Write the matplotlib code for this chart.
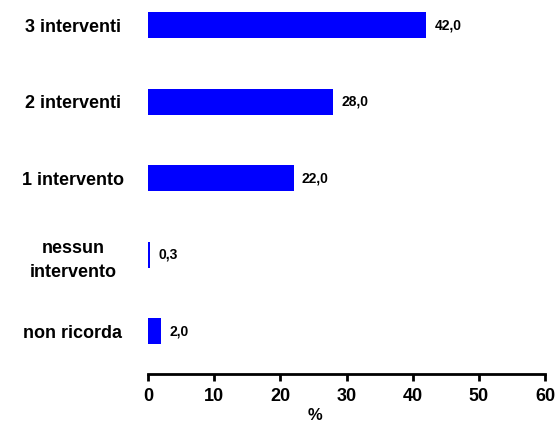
import matplotlib
matplotlib.use('Agg')
import matplotlib.pyplot as plt
import numpy as np

categories = ['non ricorda', 'nessun\nintervento', '1 intervento', '2 interventi', '3 interventi']
values = [2.0, 0.3, 22.0, 28.0, 42.0]
value_labels = ['2,0', '0,3', '22,0', '28,0', '42,0']
x_ticks = [0, 10, 20, 30, 40, 50, 60]

plt.rcParams['font.family'] = ['Liberation Sans', 'DejaVu Sans']
plt.rcParams['font.weight'] = 'bold'

fig = plt.figure(figsize=(5.58, 4.23), dpi=100)
ax = fig.add_axes([0.265, 0.116, 0.712, 0.884])

y = np.arange(len(categories))
ax.barh(y, values, height=0.34, color='#0000ff')

for yi, v, lab in zip(y, values, value_labels):
    ax.annotate(lab, xy=(v, yi), xytext=(6, 0), textcoords='offset points',
                va='center', ha='left', fontsize=10, fontweight='bold')

ax.set_xlim(0, 60)
ax.set_ylim(-0.56, 4.33)
ax.set_xticks(x_ticks)
ax.set_xticklabels([str(t) for t in x_ticks], fontsize=13, fontweight='bold')
ax.set_yticks(y)
ax.set_yticklabels(categories, fontsize=13, fontweight='bold', ha='center',
                   multialignment='center', linespacing=1.6)
ax.tick_params(axis='y', length=0, pad=54)
ax.tick_params(axis='x', direction='out', length=5, width=2, pad=5)

for s in ['top', 'right', 'left']:
    ax.spines[s].set_visible(False)
ax.spines['bottom'].set_linewidth(2)

ax.set_xlabel('%', fontsize=12, fontweight='bold', labelpad=0)
ax.xaxis.set_label_coords(0.42, -0.09)

plt.savefig('out.png', dpi=100)
